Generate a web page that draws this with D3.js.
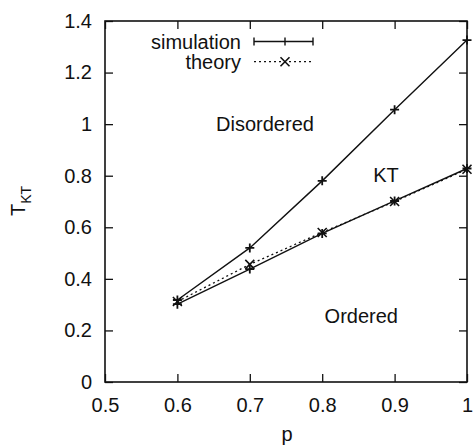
<!DOCTYPE html>
<html>
<head>
<meta charset="utf-8">
<script src="https://cdn.jsdelivr.net/npm/d3@7"></script>
<style>
  body { margin: 0; background: #fff; }
  svg { display: block; }
  text { font-family: "Liberation Sans", Arial, sans-serif; fill: #111; }
</style>
</head>
<body>
<svg id="chart"></svg>
<script>
// data
const pValues = [0.6, 0.7, 0.8, 0.9, 1.0];
const simUpper = [0.318, 0.52, 0.78, 1.056, 1.326];
const simLower = [0.302, 0.438, 0.576, 0.702, 0.828];
const theory = [0.312, 0.456, 0.58, 0.70, 0.825];

const xTicks = [0.5, 0.6, 0.7, 0.8, 0.9, 1];
const yTicks = [0, 0.2, 0.4, 0.6, 0.8, 1, 1.2, 1.4];

const regionLabels = [
  { text: 'Disordered', p: 0.721, t: 0.973 },
  { text: 'KT', p: 0.888, t: 0.777 },
  { text: 'Ordered', p: 0.854, t: 0.229 },
];

const width = 476;
const height = 446;
const margin = { top: 21, right: 9, bottom: 64, left: 105 };
const fontSize = 20;
const tickLen = 8;

const svg = d3.select('#chart')
  .attr('width', width)
  .attr('height', height);

const scaleX = d3.scaleLinear()
  .domain([0.5, 1])
  .range([margin.left, width - margin.right]);

const scaleY = d3.scaleLinear()
  .domain([0, 1.4])
  .range([height - margin.bottom, margin.top]);

const x0 = scaleX.range()[0], x1 = scaleX.range()[1];
const y0 = scaleY.range()[0], y1 = scaleY.range()[1];

// axes: inward ticks on every side, gnuplot style
const axisStyle = g => {
  g.select('.domain').remove();
  g.selectAll('line').attr('stroke', '#111').attr('stroke-width', 1.3);
  g.selectAll('text').attr('font-size', fontSize).attr('fill', '#111')
    .style('font-family', '"Liberation Sans", Arial, sans-serif');
};

svg.append('g')
  .attr('transform', `translate(0,${y0})`)
  .call(d3.axisBottom(scaleX).tickValues(xTicks).tickFormat(d3.format('')).tickSizeInner(-tickLen).tickPadding(16))
  .call(axisStyle);

svg.append('g')
  .attr('transform', `translate(0,${y1})`)
  .call(d3.axisTop(scaleX).tickValues(xTicks).tickFormat('').tickSizeInner(-tickLen))
  .call(axisStyle);

svg.append('g')
  .attr('transform', `translate(${x0},0)`)
  .call(d3.axisLeft(scaleY).tickValues(yTicks).tickFormat(d3.format('')).tickSizeInner(-tickLen).tickPadding(13))
  .call(axisStyle);

svg.append('g')
  .attr('transform', `translate(${x1},0)`)
  .call(d3.axisRight(scaleY).tickValues(yTicks).tickFormat('').tickSizeInner(-tickLen))
  .call(axisStyle);

svg.append('rect')
  .attr('x', x0).attr('y', y1)
  .attr('width', x1 - x0).attr('height', y0 - y1)
  .attr('fill', 'none').attr('stroke', '#111').attr('stroke-width', 1.6);

// axis titles
svg.append('text')
  .attr('x', (x0 + x1) / 2 + 1)
  .attr('y', 441)
  .attr('text-anchor', 'middle')
  .attr('font-size', fontSize)
  .text('p');

const yTitle = svg.append('text')
  .attr('transform', 'translate(25,201) rotate(-90)')
  .attr('text-anchor', 'middle')
  .attr('font-size', fontSize);
yTitle.append('tspan').text('T');
yTitle.append('tspan').attr('font-size', 14).attr('dy', 6).text('KT');

// lines
const line = d3.line()
  .x((d, i) => scaleX(pValues[i]))
  .y(d => scaleY(d));

const plusPath = (cx, cy, s) => `M${cx - s},${cy}H${cx + s}M${cx},${cy - s}V${cy + s}`;
const crossPath = (cx, cy, s) => `M${cx - s},${cy - s}L${cx + s},${cy + s}M${cx - s},${cy + s}L${cx + s},${cy - s}`;

svg.append('path')
  .datum(theory)
  .attr('d', line)
  .attr('fill', 'none')
  .attr('stroke', '#111')
  .attr('stroke-width', 1.3)
  .attr('stroke-dasharray', '2,3');

svg.selectAll('.theory-pt')
  .data(theory)
  .enter().append('path')
  .attr('class', 'theory-pt')
  .attr('d', (d, i) => crossPath(scaleX(pValues[i]), scaleY(d), 4.5))
  .attr('stroke', '#111')
  .attr('stroke-width', 1.6);

[simUpper, simLower].forEach((series, k) => {
  svg.append('path')
    .datum(series)
    .attr('d', line)
    .attr('fill', 'none')
    .attr('stroke', '#111')
    .attr('stroke-width', 1.4);

  svg.selectAll('.sim-pt-' + k)
    .data(series)
    .enter().append('path')
    .attr('class', 'sim-pt-' + k)
    .attr('d', (d, i) => plusPath(scaleX(pValues[i]), scaleY(d), 4.5))
    .attr('stroke', '#111')
    .attr('stroke-width', 1.8);
});

// region labels
svg.selectAll('.region')
  .data(regionLabels)
  .enter().append('text')
  .attr('class', 'region')
  .attr('x', d => scaleX(d.p))
  .attr('y', d => scaleY(d.t))
  .attr('text-anchor', 'middle')
  .attr('font-size', fontSize)
  .text(d => d.text);

// legend
const legend = svg.append('g');
const legX = 241, sx0 = 254, sx1 = 313, sxm = 285;

legend.append('text')
  .attr('x', legX).attr('y', 41.5).attr('dy', '0.35em')
  .attr('text-anchor', 'end').attr('font-size', fontSize)
  .text('simulation');
legend.append('path')
  .attr('d', `M${sx0},41.5H${sx1}M${sx0},37.5V45.5M${sx1},37.5V45.5` + plusPath(sxm, 41.5, 4))
  .attr('stroke', '#111').attr('stroke-width', 1.4).attr('fill', 'none');

legend.append('text')
  .attr('x', legX).attr('y', 61.7).attr('dy', '0.35em')
  .attr('text-anchor', 'end').attr('font-size', fontSize)
  .text('theory');
legend.append('path')
  .attr('d', `M${sx0},61.7H${sx1}`)
  .attr('stroke', '#111').attr('stroke-width', 1.3).attr('stroke-dasharray', '2,3');
legend.append('path')
  .attr('d', crossPath(sxm, 61.7, 4.5))
  .attr('stroke', '#111').attr('stroke-width', 1.6);
</script>
</body>
</html>
